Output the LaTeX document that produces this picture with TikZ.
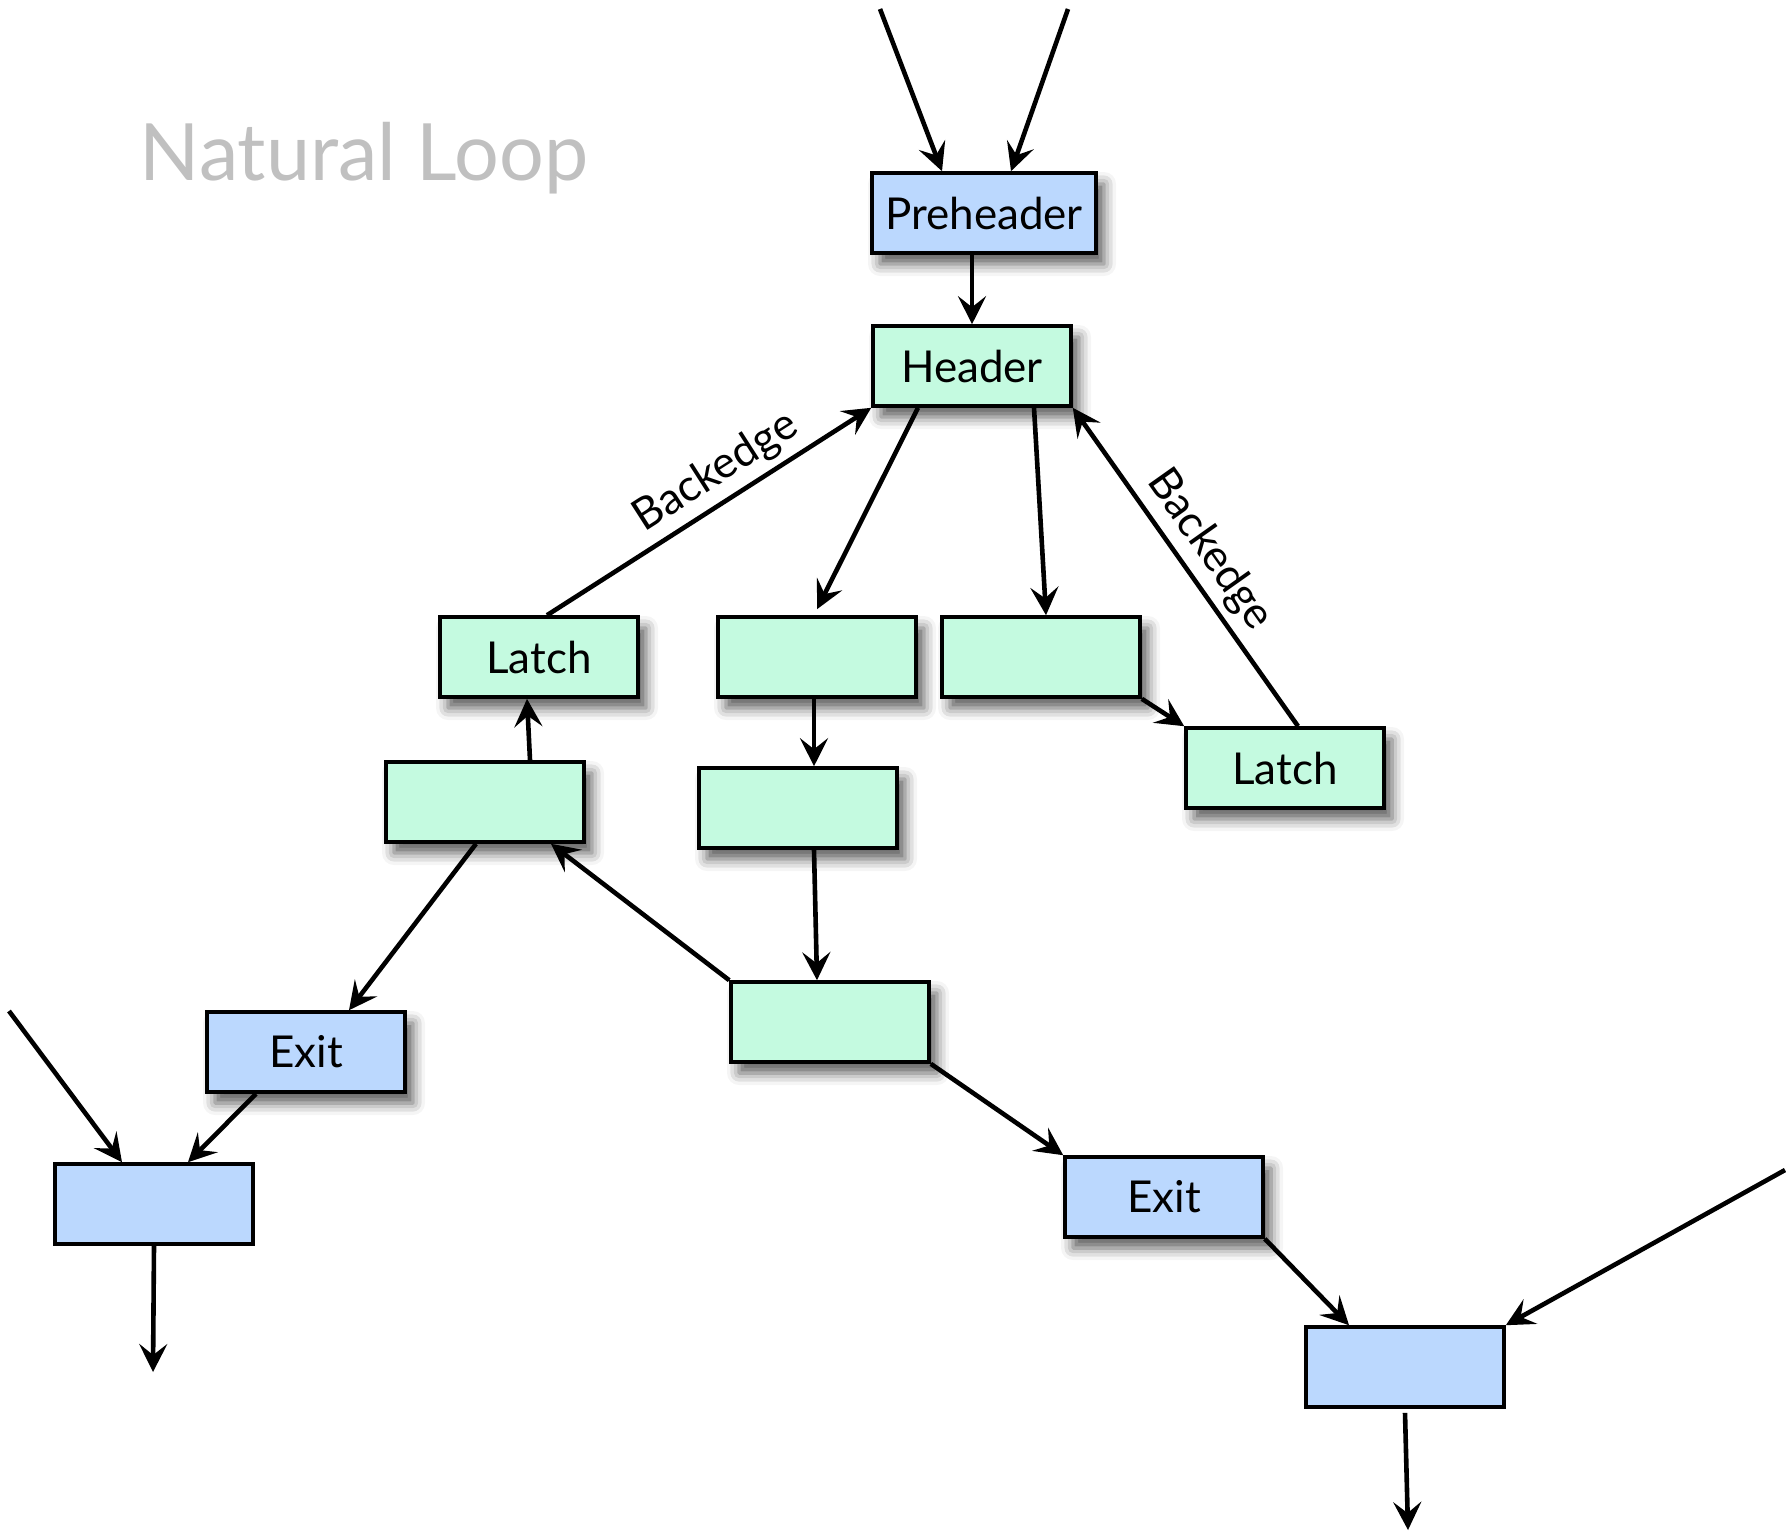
\documentclass[tikz,border=0pt]{standalone}
\usepackage{fontspec}
\setmainfont{Lato}
\usepackage{xcolor}
\usepackage{tikz}
\usetikzlibrary{arrows.meta}
\usetikzlibrary{shadows.blur}

\definecolor{exitblue}{RGB}{187,216,254}
\definecolor{loopgreen}{RGB}{196,250,224}
\definecolor{titlegray}{RGB}{192,192,192}

\tikzset{
	blk/.style={draw=black, line width=0.36mm, minimum width=19.8mm, minimum height=8mm, inner sep=0pt, font=\fontsize{12.5}{15}\selectfont},
	boxshade/.style={blur shadow={shadow xshift=0.8mm, shadow yshift=-1.1mm, shadow blur radius=1.2mm, shadow opacity=65}},
	loopblk/.style={blk, fill=loopgreen, boxshade},
	exitblk/.style={blk, fill=exitblue, boxshade},
	outblk/.style={blk, fill=exitblue},
	flow/.style={line width=0.46mm, -{Stealth[length=2.8mm,width=2.8mm,inset=1.1mm]}},
	edgelbl/.style={sloped, above, inner sep=2pt, font=\fontsize{12.5}{15}\selectfont},
}

\begin{document}
\begin{tikzpicture}[x=0.1mm, y=-0.1mm]
	
	\useasboundingbox (0,0) rectangle (1786,1534);
	
	\node [anchor=base west, inner sep=0pt, text=titlegray, font=\fontsize{22.5}{27}\selectfont] (title) at (139,180) {Natural Loop};
	
	\node [exitblk, minimum width=22.4mm] (pre) at (984,213) {Preheader};
	\node [loopblk] (hdr) at (972,366) {Header};
	
	\node [loopblk] (latchL) at (539,657) {Latch};
	\node [loopblk] (bodyA) at (817,657) {};
	\node [loopblk] (bodyB) at (1041,657) {};
	\node [loopblk] (latchR) at (1285,768) {Latch};
	\node [loopblk] (bodyC) at (485,802) {};
	\node [loopblk] (bodyD) at (798,808) {};
	\node [loopblk] (bodyE) at (830,1022) {};
	
	\node [exitblk] (exitL) at (306,1052) {Exit};
	\node [exitblk] (exitR) at (1164,1197) {Exit};
	
	\node [outblk] (outL) at (154,1204) {};
	\node [outblk] (outR) at (1405,1367) {};
	
	\coordinate (inA) at (880,9);
	\coordinate (inB) at (1068,9);
	\coordinate (inL) at (9,1011);
	\coordinate (inR) at (1785,1170);
	\coordinate (downL) at (153,1372);
	\coordinate (downR) at (1408,1530);
	
	\draw [flow] (inA) -- ([xshift=-4.2mm]pre.north);
	\draw [flow] (inB) -- ([xshift=2.7mm]pre.north);
	\draw [flow] (pre.south -| hdr.north) -- (hdr.north);
	
	\draw [flow] ([xshift=-5.4mm]hdr.south) -- ([yshift=0.6mm]bodyA.north);
	\draw [flow] ([xshift=6.2mm]hdr.south) -- ([xshift=0.5mm]bodyB.north);
	\draw [flow] ([xshift=0.8mm]latchL.north) -- (hdr.south west) node [edgelbl, pos=0.57] {Backedge};
	\draw [flow] ([xshift=1.3mm]latchR.north) -- (hdr.south east) node [edgelbl, pos=0.5] {Backedge};
	\draw [flow] (bodyB.south east) -- (latchR.north west);
	
	\draw [flow] (bodyA.south -| bodyD.north) ++(1.6mm,0) -- ([xshift=1.6mm]bodyD.north);
	\draw [flow] ([xshift=4.5mm]bodyC.north) -- ([xshift=-1.2mm]latchL.south);
	\draw [flow] ([xshift=1.6mm]bodyD.south) -- ([xshift=-1.3mm]bodyE.north);
	\draw [flow] (bodyE.north west) -- ([xshift=6.6mm]bodyC.south);
	
	\draw [flow] ([xshift=-0.9mm]bodyC.south) -- ([xshift=4.3mm]exitL.north);
	\draw [flow] ([xshift=-5mm]exitL.south) -- ([xshift=3.4mm]outL.north);
	\draw [flow] (inL) -- ([xshift=-3.2mm]outL.north);
	\draw [flow] (outL.south) -- (downL);
	
	\draw [flow] (bodyE.south east) -- (exitR.north west);
	\draw [flow] (exitR.south east) -- ([xshift=-5.6mm]outR.north);
	\draw [flow] (inR) -- (outR.north east);
	\draw [flow] ([yshift=-0.4mm]outR.south) -- (downR);
	
\end{tikzpicture}
\end{document}
